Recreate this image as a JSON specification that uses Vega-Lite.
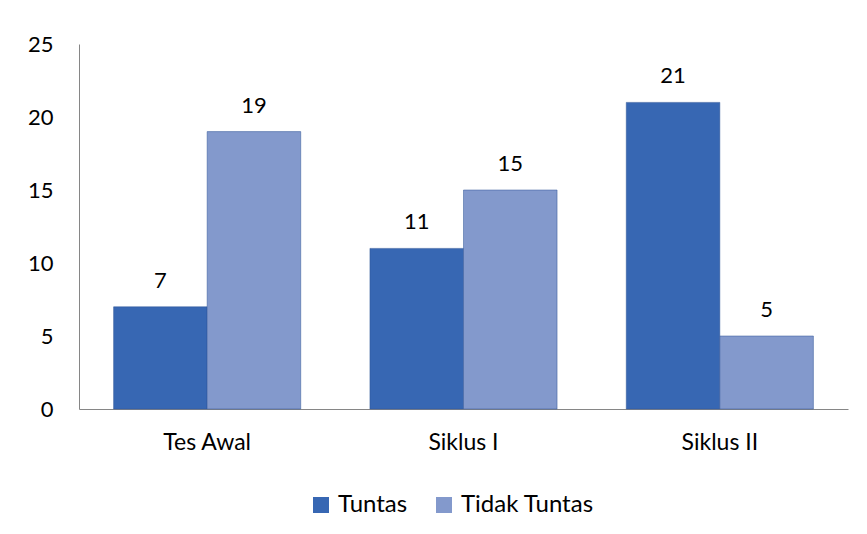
{
  "$schema": "https://vega.github.io/schema/vega-lite/v6.json",
  "width": 769,
  "height": 365,
  "autosize": {"type": "none"},
  "padding": {"left": 79, "top": 44, "right": 19, "bottom": 125},
  "background": "white",
  "config": {
    "view": {"stroke": null},
    "font": "Lato",
    "axis": {"labelFont": "Lato", "labelColor": "#000000", "domainColor": "#868686", "ticks": false, "grid": false, "title": null}
  },
  "data": {
    "values": [
      {"siklus": "Tes Awal", "status": "Tuntas", "nilai": 7},
      {"siklus": "Tes Awal", "status": "Tidak Tuntas", "nilai": 19},
      {"siklus": "Siklus I", "status": "Tuntas", "nilai": 11},
      {"siklus": "Siklus I", "status": "Tidak Tuntas", "nilai": 15},
      {"siklus": "Siklus II", "status": "Tuntas", "nilai": 21},
      {"siklus": "Siklus II", "status": "Tidak Tuntas", "nilai": 5}
    ]
  },
  "encoding": {
    "x": {
      "field": "siklus",
      "type": "nominal",
      "sort": ["Tes Awal", "Siklus I", "Siklus II"],
      "scale": {"paddingInner": 0.27, "paddingOuter": 0.135},
      "axis": {"labelAngle": 0, "labelFontSize": 23, "labelPadding": 22, "domainWidth": 1}
    },
    "xOffset": {"field": "status", "type": "nominal", "sort": ["Tuntas", "Tidak Tuntas"]},
    "y": {
      "field": "nilai",
      "type": "quantitative",
      "scale": {"domain": [0, 25], "nice": false},
      "axis": {"values": [0, 5, 10, 15, 20, 25], "labelFontSize": 22, "labelPadding": 26, "domainWidth": 1}
    }
  },
  "layer": [
    {
      "mark": {"type": "bar", "stroke": "#2F5597", "strokeWidth": 1, "strokeOpacity": 0.5},
      "encoding": {
        "color": {
          "field": "status",
          "type": "nominal",
          "sort": ["Tuntas", "Tidak Tuntas"],
          "scale": {"domain": ["Tuntas", "Tidak Tuntas"], "range": ["#3767B3", "#8399CC"]},
          "legend": {
            "orient": "none",
            "legendX": 230,
            "legendY": 449,
            "direction": "horizontal",
            "title": null,
            "symbolType": "square",
            "symbolSize": 256,
            "symbolStrokeWidth": 0,
            "symbolOpacity": 1,
            "labelFontSize": 24,
            "labelFont": "Lato",
            "labelColor": "#000000",
            "columnPadding": 24,
            "labelOffset": 5,
            "padding": 0
          }
        }
      }
    },
    {
      "mark": {"type": "text", "baseline": "bottom", "dy": -14, "fontSize": 22, "color": "#000000"},
      "encoding": {"text": {"field": "nilai", "type": "quantitative"}}
    }
  ]
}
